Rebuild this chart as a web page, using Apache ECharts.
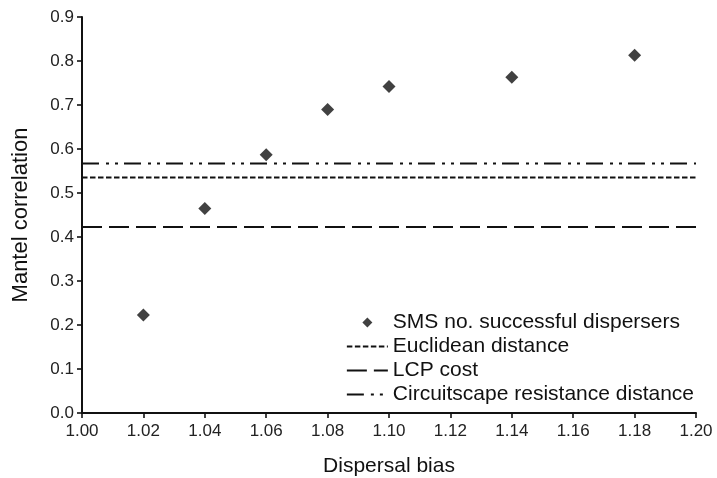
<!DOCTYPE html>
<html><head><meta charset="utf-8">
<script src="https://cdn.jsdelivr.net/npm/echarts@6/dist/echarts.min.js"></script>
<style>html,body{margin:0;padding:0;background:#fff}#c{width:717px;height:478px}</style>
</head><body><div id="c"></div>
<script>
const biasX = [1.02, 1.04, 1.06, 1.08, 1.10, 1.14, 1.18];
const smsValues = [0.223, 0.465, 0.587, 0.690, 0.742, 0.763, 0.813];
const lineX = [1.00, 1.20];
const euclidean = 0.535;
const lcpCost = 0.423;
const circuitscape = 0.567;
const names = ['SMS no. successful dispersers', 'Euclidean distance', 'LCP cost', 'Circuitscape resistance distance'];

const font = 'Liberation Sans, Arial, Helvetica, sans-serif';
const chart = echarts.init(document.getElementById('c'));
const hline = (name, v, type) => ({
  name, type: 'line', symbol: 'none', silent: true,
  data: lineX.map(x => [x, v]),
  itemStyle: { color: '#111' },
  lineStyle: { color: '#111', width: 2, type }
});
chart.setOption({
  animation: false,
  textStyle: { fontFamily: font },
  grid: { left: 82, right: 21, top: 17, bottom: 65, containLabel: false, outerBoundsMode: 'none' },
  xAxis: {
    type: 'value', min: 1.0, max: 1.2, interval: 0.02,
    name: 'Dispersal bias', nameLocation: 'middle', nameGap: 43,
    nameTextStyle: { fontSize: 21, color: '#111', fontFamily: font },
    axisLine: { lineStyle: { color: '#111', width: 2 } },
    axisTick: { show: true, inside: false, length: 5, lineStyle: { color: '#111', width: 1.6 } },
    axisLabel: { fontSize: 17, color: '#222', formatter: v => v.toFixed(2), margin: 10 },
    splitLine: { show: false }
  },
  yAxis: {
    type: 'value', min: 0, max: 0.9, interval: 0.1,
    name: 'Mantel correlation', nameLocation: 'middle', nameGap: 50,
    nameTextStyle: { fontSize: 22, color: '#111', fontFamily: font },
    axisLine: { show: true, lineStyle: { color: '#111', width: 2 } },
    axisTick: { show: true, length: 5, lineStyle: { color: '#111', width: 1.6 } },
    axisLabel: { fontSize: 17, color: '#222', formatter: v => v.toFixed(1), margin: 8 },
    splitLine: { show: false }
  },
  legend: {
    orient: 'vertical', right: 18, top: 307, itemGap: 3, itemWidth: 41, itemHeight: 10,
    symbolKeepAspect: true,
    textStyle: { fontSize: 21, color: '#111', fontFamily: font, padding: [0, 0, 0, 0] },
    data: [
      { name: names[0], icon: 'path://M5,0L10,5L5,10L0,5Z', itemStyle: { color: '#111' } },
      { name: names[1], itemStyle: { opacity: 0 } },
      { name: names[2], itemStyle: { opacity: 0 } },
      { name: names[3], itemStyle: { opacity: 0 } }
    ]
  },
  series: [
    {
      name: names[0], type: 'scatter', symbol: 'diamond', symbolSize: 13,
      itemStyle: { color: '#111' },
      data: biasX.map((x, i) => [x, smsValues[i]])
    },
    hline(names[1], euclidean, [5.5, 2.5]),
    hline(names[2], lcpCost, [20, 7]),
    hline(names[3], circuitscape, [17, 7, 3, 6, 3, 6])
  ]
});
</script></body></html>
